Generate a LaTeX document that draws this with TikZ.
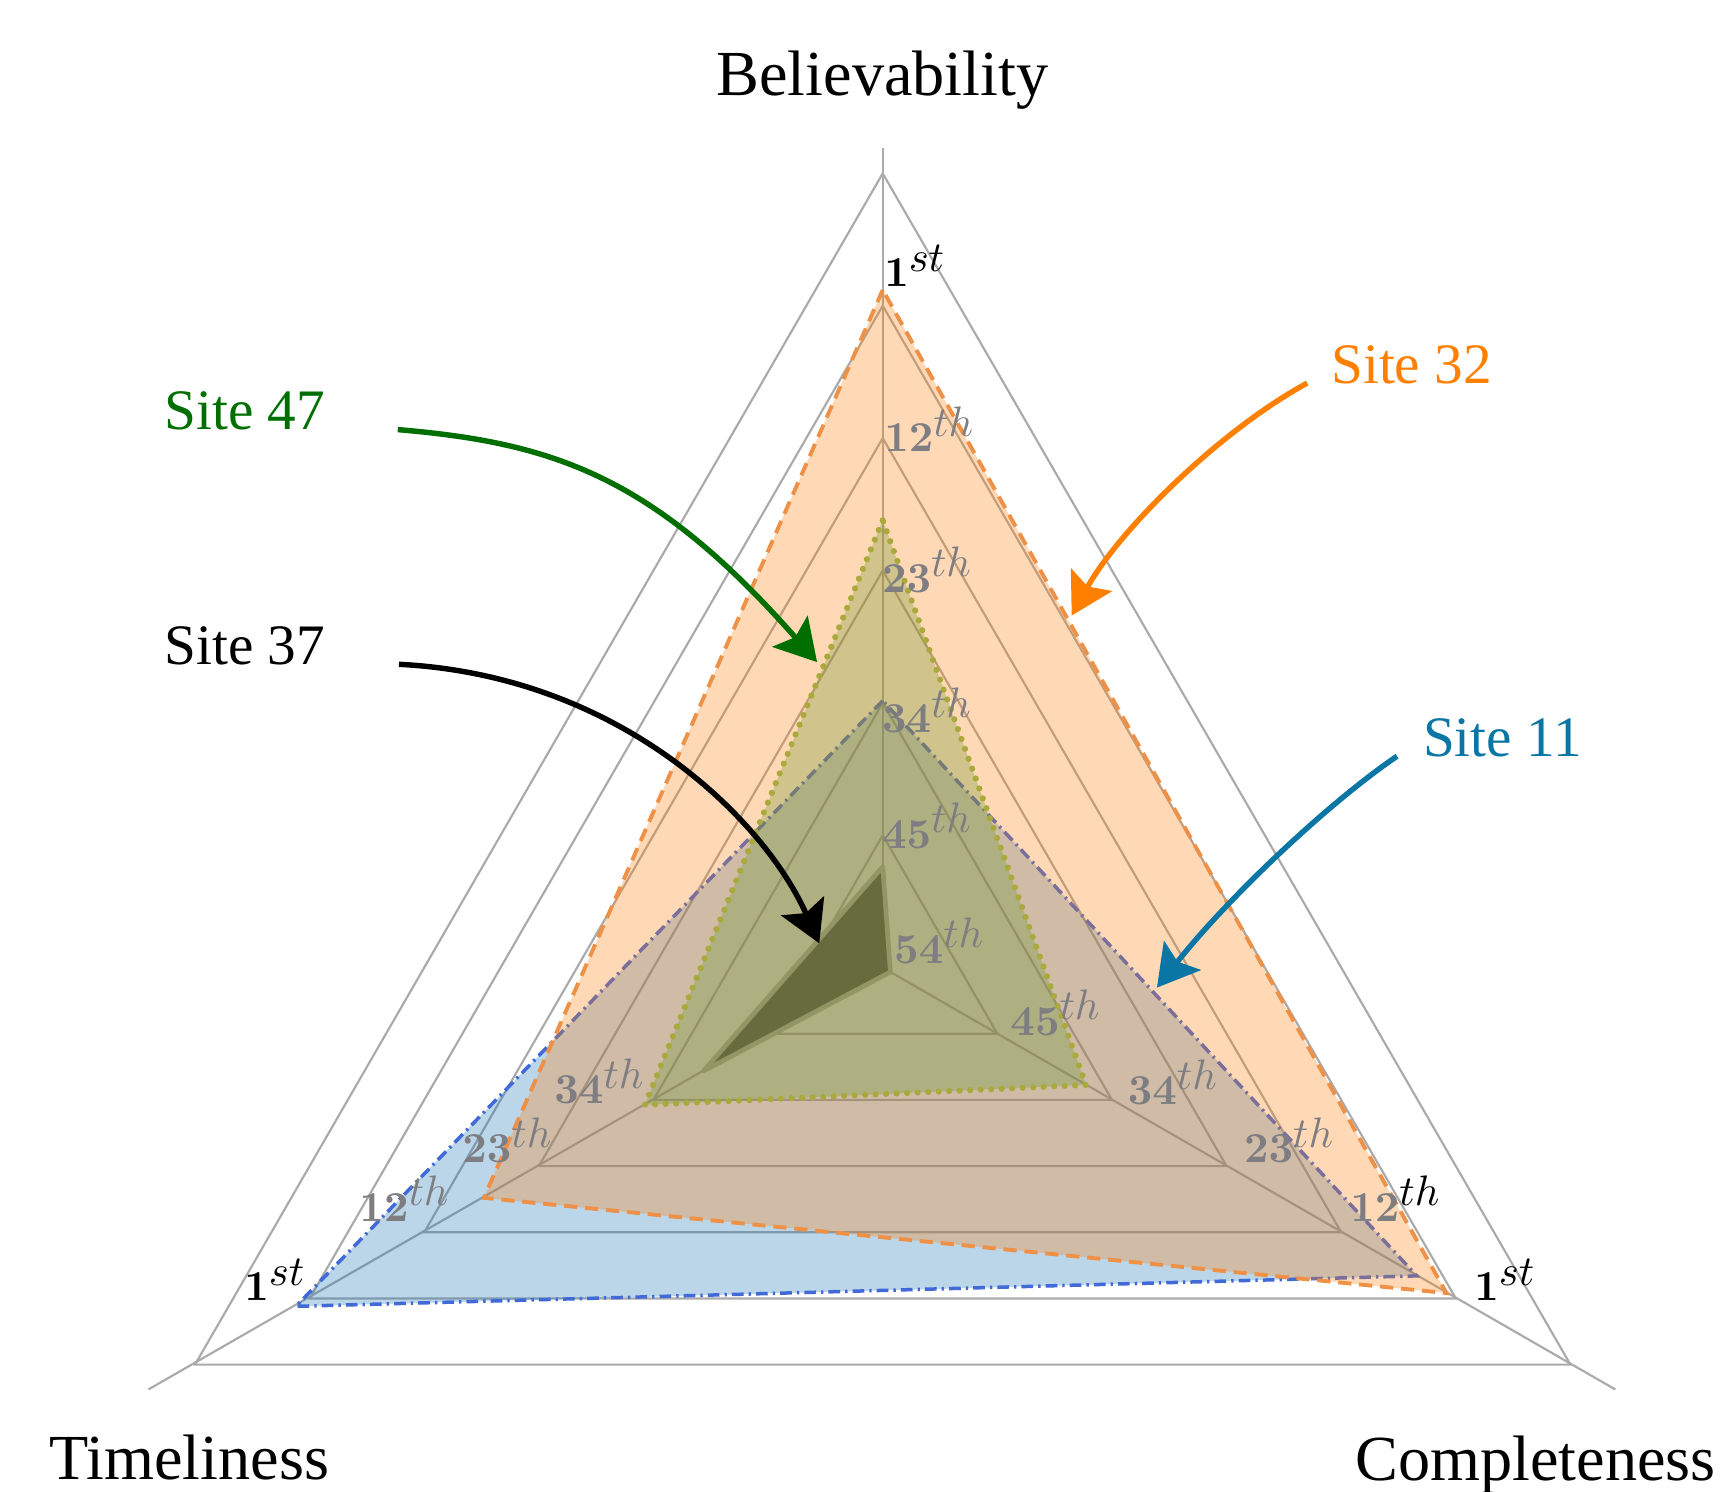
\documentclass[tikz,border=0pt]{standalone}
\usepackage[no-math]{fontspec}
\setmainfont{Liberation Serif}
\usetikzlibrary{arrows.meta,calc}

\definecolor{c32}{RGB}{255,128,0}
\definecolor{c47}{RGB}{0,110,0}
\definecolor{c11}{RGB}{10,118,165}
\definecolor{tabblue}{RGB}{31,119,180}
\definecolor{taborange}{RGB}{255,127,14}
\definecolor{olivefill}{RGB}{100,150,45}
\definecolor{oliveline}{RGB}{170,170,60}
\definecolor{darkfill}{RGB}{104,107,62}
\definecolor{darkline}{RGB}{145,150,100}
\definecolor{gridc}{RGB}{170,170,170}
\definecolor{rankc}{RGB}{125,125,130}
\definecolor{blueline}{RGB}{65,105,215}
\definecolor{orangeline}{RGB}{238,145,70}

\def\cx{797.3}
\def\cy{873.9}
\def\R{119.55}
\newcommand\sitetri[3]{(\cx,{\cy-#1}) -- ({\cx-0.8660*#2},{\cy+0.5*#2}) -- ({\cx+0.8660*#3},{\cy+0.5*#3}) -- cycle}
\newcommand\rk[2]{$\mathbf{#1}^{\textstyle #2}$}

\begin{document}
\begin{tikzpicture}[x=0.01cm,y=-0.01cm,
  gridline/.style={draw=gridc,line width=0.55pt},
  rank/.style={anchor=base west,inner sep=0pt,text=rankc,font=\fontsize{10.8}{13}\selectfont},
  rankfirst/.style={rank,text=black},
  sitelab/.style={anchor=base,inner sep=0pt,font=\fontsize{14.7}{17}\selectfont},
  axislab/.style={anchor=base,inner sep=0pt,font=\fontsize{16.5}{20}\selectfont},
  pointer/.style={line width=1.4pt,-{Stealth[length=10.5pt,width=12pt,inset=2pt]}},
  site11/.style={fill=tabblue,fill opacity=0.3,draw=blueline,line width=0.9pt,dash pattern=on 3pt off 1.3pt on 0.6pt off 1.3pt},
  site32/.style={fill=taborange,fill opacity=0.3,draw=orangeline,line width=1pt,dash pattern=on 3.4pt off 2pt},
  site47/.style={fill=olivefill,fill opacity=0.3,draw=oliveline,line width=1.6pt,dash pattern=on 0pt off 2.7pt,line cap=round},
  site37/.style={fill=darkfill,draw=darkline,line width=1.2pt,line join=round}]

\useasboundingbox (0,0) rectangle (1568,1347);

% centre and grid vertices
\coordinate (O) at (\cx,\cy);
\foreach \k in {1,...,6}{
  \coordinate (T\k) at (\cx,{\cy-\k*\R});
  \coordinate (L\k) at ({\cx-0.8660*\k*\R},{\cy+0.5*\k*\R});
  \coordinate (B\k) at ({\cx+0.8660*\k*\R},{\cy+0.5*\k*\R});
}
\coordinate (Tend) at (\cx,134);
\coordinate (Lend) at (134,1255);
\coordinate (Bend) at (1459,1255);

% grid
\foreach \k in {1,...,6}{
  \draw[gridline] (T\k) -- (L\k) -- (B\k) -- cycle;
}
\draw[gridline] (O) -- (Tend);
\draw[gridline] (O) -- (Lend);
\draw[gridline] (O) -- (Bend);

% site polygons
\path[site11] \sitetri{241}{612}{557};
\path[site32] \sitetri{612}{416}{588};
\path[site47] \sitetri{404}{248}{212};
\path[site37] \sitetri{91}{187}{8};

% rank labels: top axis
\node[rankfirst] (t1)  at (798,259) {\rk{1}{st}};
\node[rank]      (t12) at (798,408) {\rk{12}{th}};
\node[rank]      (t23) at (796,535) {\rk{23}{th}};
\node[rank]      (t34) at (796,662) {\rk{34}{th}};
\node[rank]      (t45) at (796,766) {\rk{45}{th}};
\node[rank]      (t54) at (807,870) {\rk{54}{th}};
% bottom-left axis
\node[rankfirst] (l1)  at (220,1175) {\rk{1}{st}};
\node[rank]      (l12) at (324,1103) {\rk{12}{th}};
\node[rank]      (l23) at (417,1050) {\rk{23}{th}};
\node[rank]      (l34) at (500,997)  {\rk{34}{th}};
% bottom-right axis
\node[rankfirst] (b1)  at (1331,1175) {\rk{1}{st}};
\node[rank,text=black] (b12) at (1219,1103) {$\textcolor{rankc}{\mathbf{12}}^{\textstyle th}$};
\node[rank]      (b23) at (1123,1050) {\rk{23}{th}};
\node[rank]      (b34) at (1018,998)  {\rk{34}{th}};
\node[rank]      (b45) at (912,935)   {\rk{45}{th}};

% axis labels
\node[axislab] (believ) at (797,86)   {Believability};
\node[axislab] (timel)  at (171,1336) {Timeliness};
\node[axislab] (compl)  at (1387,1337) {Completeness};

% site labels
\node[sitelab,text=c32] (s32) at (1275,346) {Site 32};
\node[sitelab,text=c47] (s47) at (221,388)  {Site 47};
\node[sitelab,text=black] (s37) at (221,600) {Site 37};
\node[sitelab,text=c11] (s11) at (1357,683) {Site 11};

% arrow targets
\coordinate (e32) at (968,556);
\coordinate (e47) at (738,598);
\coordinate (e37) at (740,852);
\coordinate (e11) at (1045,892);

% pointers
\draw[pointer,c32] ([xshift=-6pt]s32.base west) .. controls (1100,390) and (1010,480) .. (e32);
\draw[pointer,c11] ([xshift=-6.5pt]s11.base west) .. controls (1200,725) and (1110,810) .. (e11);
\draw[pointer,c47] ([xshift=18.5pt]s47.base east) .. controls (500,400) and (590,430) .. (e47);
\draw[pointer,black] ([xshift=18.8pt]s37.base east) .. controls (560,610) and (690,740) .. (e37);

\end{tikzpicture}
\end{document}
